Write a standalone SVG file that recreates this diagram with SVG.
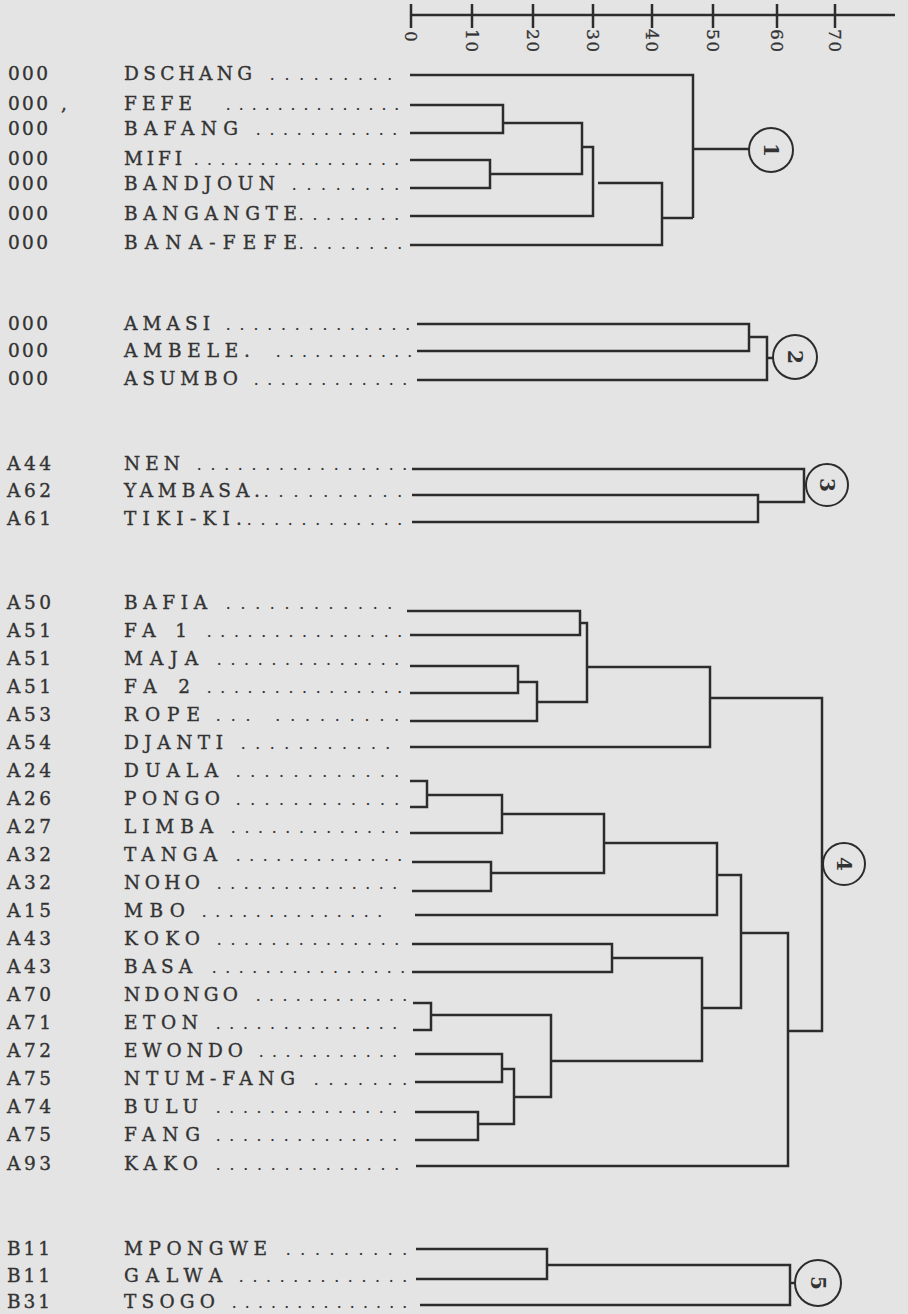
<svg xmlns="http://www.w3.org/2000/svg" width="908" height="1314" viewBox="0 0 908 1314">
<style>
  .bg { fill: #e4e4e4; }
  text { font-family: "DejaVu Serif", "Liberation Serif", serif; fill: #333333; }
  .c { font-size: 18.5px; stroke: #333333; stroke-width: 0.35; }
  .n { font-size: 18.5px; stroke: #333333; stroke-width: 0.35; }
  .d { font-size: 17px; }
  .ax { font-size: 17px; stroke: #333333; stroke-width: 0.3; }
  .num { font-size: 20px; font-weight: bold; text-anchor: middle; }
  .ln { fill: none; stroke: #2c2c2c; stroke-width: 2.5; stroke-linejoin: miter; }
  .cl { fill: none; stroke: #2c2c2c; stroke-width: 2; }
</style>
<rect class="bg" x="0" y="0" width="908" height="1314"/>

<g id="axis">
  <path class="ln" d="M411,15 H895 M411,4 V28 M472,4 V28 M533,4 V28 M593,4 V28 M652,4 V28 M713,4 V28 M777,4 V28 M835,4 V28"/>
  <text class="ax" transform="translate(411,31) rotate(90)" x="0" y="6">0</text>
  <text class="ax" transform="translate(472,29) rotate(90)" x="0" y="6" letter-spacing="1.5">10</text>
  <text class="ax" transform="translate(533,29) rotate(90)" x="0" y="6" letter-spacing="1.5">20</text>
  <text class="ax" transform="translate(593,29) rotate(90)" x="0" y="6" letter-spacing="1.5">30</text>
  <text class="ax" transform="translate(652,29) rotate(90)" x="0" y="6" letter-spacing="1.5">40</text>
  <text class="ax" transform="translate(713,29) rotate(90)" x="0" y="6" letter-spacing="1.5">50</text>
  <text class="ax" transform="translate(777,29) rotate(90)" x="0" y="6" letter-spacing="1.5">60</text>
  <text class="ax" transform="translate(835,29) rotate(90)" x="0" y="6" letter-spacing="1.5">70</text>
</g>

<!-- Group 1 -->
<g id="n-dschang"><text class="c" x="8" y="79.5" textLength="40">000</text><text class="n" x="124" y="79.5" textLength="128">DSCHANG</text><text class="d" x="269.5" y="79.5" textLength="123">.........</text></g>
<g id="n-fefe"><text class="c" x="8" y="109.5" textLength="40">000</text><text class="c" x="61" y="109.5">,</text><text class="n" x="124" y="109.5" textLength="68">FEFE</text><text class="d" x="225.5" y="109.5" textLength="174">..............</text></g>
<g id="n-bafang"><text class="c" x="8" y="134.5" textLength="40">000</text><text class="n" x="124" y="134.5" textLength="114">BAFANG</text><text class="d" x="255.5" y="134.5" textLength="142">...........</text></g>
<g id="n-mifi"><text class="c" x="8" y="164.5" textLength="40">000</text><text class="n" x="124" y="164.5" textLength="58">MIFI</text><text class="d" x="193.5" y="164.5" textLength="206">................</text></g>
<g id="n-bandjoun"><text class="c" x="8" y="189.5" textLength="40">000</text><text class="n" x="124" y="189.5" textLength="151">BANDJOUN</text><text class="d" x="291.5" y="189.5" textLength="108">........</text></g>
<g id="n-bangangte"><text class="c" x="8" y="219.5" textLength="40">000</text><text class="n" x="124" y="219.5" textLength="173">BANGANGTE</text><text class="d" x="298.5" y="219.5" textLength="101">........</text></g>
<g id="n-bana-fefe"><text class="c" x="8" y="248.5" textLength="40">000</text><text class="n" x="124" y="248.5" textLength="173">BANA-FEFE</text><text class="d" x="298.5" y="248.5" textLength="104">........</text></g>

<!-- Group 2 -->
<g id="n-amasi"><text class="c" x="8" y="330" textLength="40">000</text><text class="n" x="124" y="330" textLength="86">AMASI</text><text class="d" x="225.5" y="330" textLength="185">..............</text></g>
<g id="n-ambele"><text class="c" x="8" y="357" textLength="40">000</text><text class="n" x="124" y="357" textLength="126">AMBELE.</text><text class="d" x="275.5" y="357" textLength="137">...........</text></g>
<g id="n-asumbo"><text class="c" x="8" y="385" textLength="40">000</text><text class="n" x="124" y="385" textLength="114">ASUMBO</text><text class="d" x="253.5" y="385" textLength="154">............</text></g>

<!-- Group 3 -->
<g id="n-nen"><text class="c" x="7" y="470" textLength="44">A44</text><text class="n" x="124" y="470" textLength="56">NEN</text><text class="d" x="196.5" y="470" textLength="211">................</text></g>
<g id="n-yambasa"><text class="c" x="7" y="497" textLength="44">A62</text><text class="n" x="124" y="497" textLength="136">YAMBASA.</text><text class="d" x="263.5" y="497" textLength="139">..........</text></g>
<g id="n-tiki-ki"><text class="c" x="7" y="525" textLength="44">A61</text><text class="n" x="124" y="525" textLength="118">TIKI-KI.</text><text class="d" x="246.5" y="525" textLength="156">............</text></g>

<!-- Group 4 -->
<g id="n-bafia"><text class="c" x="7" y="608.5" textLength="44">A50</text><text class="n" x="124" y="608.5" textLength="83">BAFIA</text><text class="d" x="225.5" y="608.5" textLength="167">............</text></g>
<g id="n-fa1"><text class="c" x="7" y="636.5" textLength="44">A51</text><text class="n" x="124" y="636.5" textLength="63">FA 1</text><text class="d" x="206.5" y="636.5" textLength="196">...............</text></g>
<g id="n-maja"><text class="c" x="7" y="664.6" textLength="44">A51</text><text class="n" x="124" y="664.6" textLength="74">MAJA</text><text class="d" x="216.5" y="664.6" textLength="183">..............</text></g>
<g id="n-fa2"><text class="c" x="7" y="692.6" textLength="44">A51</text><text class="n" x="124" y="692.6" textLength="66">FA 2</text><text class="d" x="206.5" y="692.6" textLength="196">...............</text></g>
<g id="n-rope"><text class="c" x="7" y="720.7" textLength="44">A53</text><text class="n" x="124" y="720.7" textLength="76">ROPE</text><text class="d" x="215.5" y="720.7" textLength="184">... .........</text></g>
<g id="n-djanti"><text class="c" x="7" y="748.8" textLength="44">A54</text><text class="n" x="124" y="748.8" textLength="99">DJANTI</text><text class="d" x="240.5" y="748.8" textLength="150">...........</text></g>
<g id="n-duala"><text class="c" x="7" y="776.8" textLength="44">A24</text><text class="n" x="124" y="776.8" textLength="94">DUALA</text><text class="d" x="235.5" y="776.8" textLength="164">............</text></g>
<g id="n-pongo"><text class="c" x="7" y="804.9" textLength="44">A26</text><text class="n" x="124" y="804.9" textLength="96">PONGO</text><text class="d" x="235.5" y="804.9" textLength="164">............</text></g>
<g id="n-limba"><text class="c" x="7" y="832.9" textLength="44">A27</text><text class="n" x="124" y="832.9" textLength="89">LIMBA</text><text class="d" x="230.5" y="832.9" textLength="169">.............</text></g>
<g id="n-tanga"><text class="c" x="7" y="861" textLength="44">A32</text><text class="n" x="124" y="861" textLength="93">TANGA</text><text class="d" x="235.5" y="861" textLength="167">.............</text></g>
<g id="n-noho"><text class="c" x="7" y="889" textLength="44">A32</text><text class="n" x="124" y="889" textLength="76">NOHO</text><text class="d" x="216.5" y="889" textLength="181">..............</text></g>
<g id="n-mbo"><text class="c" x="7" y="917" textLength="44">A15</text><text class="n" x="124" y="917" textLength="61">MBO</text><text class="d" x="201.5" y="917" textLength="181">..............</text></g>
<g id="n-koko"><text class="c" x="7" y="945" textLength="44">A43</text><text class="n" x="124" y="945" textLength="76">KOKO</text><text class="d" x="216.5" y="945" textLength="183">..............</text></g>
<g id="n-basa"><text class="c" x="7" y="973" textLength="44">A43</text><text class="n" x="124" y="973" textLength="68">BASA</text><text class="d" x="211.5" y="973" textLength="194">...............</text></g>
<g id="n-ndongo"><text class="c" x="7" y="1001" textLength="44">A70</text><text class="n" x="124" y="1001" textLength="114">NDONGO</text><text class="d" x="255.5" y="1001" textLength="152">............</text></g>
<g id="n-eton"><text class="c" x="7" y="1029" textLength="44">A71</text><text class="n" x="124" y="1029" textLength="74">ETON</text><text class="d" x="215.5" y="1029" textLength="182">..............</text></g>
<g id="n-ewondo"><text class="c" x="7" y="1057" textLength="44">A72</text><text class="n" x="124" y="1057" textLength="119">EWONDO</text><text class="d" x="258.5" y="1057" textLength="139">...........</text></g>
<g id="n-ntum-fang"><text class="c" x="7" y="1085" textLength="44">A75</text><text class="n" x="124" y="1085" textLength="171">NTUM-FANG</text><text class="d" x="313.5" y="1085" textLength="94">.......</text></g>
<g id="n-bulu"><text class="c" x="7" y="1113" textLength="44">A74</text><text class="n" x="124" y="1113" textLength="74">BULU</text><text class="d" x="215.5" y="1113" textLength="182">..............</text></g>
<g id="n-fang"><text class="c" x="7" y="1141" textLength="44">A75</text><text class="n" x="124" y="1141" textLength="76">FANG</text><text class="d" x="215.5" y="1141" textLength="182">..............</text></g>
<g id="n-kako"><text class="c" x="7" y="1169.5" textLength="44">A93</text><text class="n" x="124" y="1169.5" textLength="74">KAKO</text><text class="d" x="215.5" y="1169.5" textLength="184">..............</text></g>

<!-- Group 5 -->
<g id="n-mpongwe"><text class="c" x="7" y="1255" textLength="43">B11</text><text class="n" x="124" y="1255" textLength="143">MPONGWE</text><text class="d" x="285.5" y="1255" textLength="122">.........</text></g>
<g id="n-galwa"><text class="c" x="7" y="1282" textLength="43">B11</text><text class="n" x="124" y="1282" textLength="98">GALWA</text><text class="d" x="238.5" y="1282" textLength="169">.............</text></g>
<g id="n-tsogo"><text class="c" x="7" y="1308" textLength="43">B31</text><text class="n" x="124" y="1308" textLength="91">TSOGO</text><text class="d" x="231.5" y="1308" textLength="176">..............</text></g>

<!-- cluster markers -->
<g id="cluster-1"><circle class="cl" cx="771" cy="150" r="22"/><text class="num" transform="translate(771,150) rotate(90)" x="0" y="7.5">1</text></g>
<g id="cluster-2"><circle class="cl" cx="795" cy="357" r="22"/><text class="num" transform="translate(795,357) rotate(90)" x="0" y="7.5">2</text></g>
<g id="cluster-3"><circle class="cl" cx="827" cy="485" r="21"/><text class="num" transform="translate(827,485) rotate(90)" x="0" y="7.5">3</text></g>
<g id="cluster-4"><circle class="cl" cx="844" cy="864" r="21"/><text class="num" transform="translate(844,864) rotate(90)" x="0" y="7.5">4</text></g>
<g id="cluster-5"><circle class="cl" cx="818" cy="1283" r="23"/><text class="num" transform="translate(818,1283) rotate(90)" x="0" y="7.5">5</text></g>

<g id="connectors" class="ln">
  <!-- group 1 -->
  <path d="M410,75 H693 V218"/>
  <path d="M410,105 H503 V133 H410"/>
  <path d="M503,123 H582 V174 H490"/>
  <path d="M410,160 H490 V188 H410"/>
  <path d="M582,147 H593 V216 H410"/>
  <path d="M598,183 H662 V245 H410"/>
  <path d="M662,218 H693"/>
  <path d="M693,149 H749"/>
  <!-- group 2 -->
  <path d="M417,324 H749 V351 H417"/>
  <path d="M749,337 H767 V380 H417"/>
  <path d="M767,358 H773"/>
  <!-- group 3 -->
  <path d="M412,469 H804 V502 H758"/>
  <path d="M412,495 H758 V522 H412"/>
  <path d="M804,485 H806"/>
  <!-- group 4 -->
  <path d="M407,611 H580 V635 H410"/>
  <path d="M580,623 H587 V702 H537"/>
  <path d="M410,666 H518 V693 H410"/>
  <path d="M518,682 H537 V721 H410"/>
  <path d="M587,667 H710 V747 H410"/>
  <path d="M710,698 H822 V1031 H788"/>
  <path d="M410,781 H427 V807 H410"/>
  <path d="M427,795 H502 V833 H410"/>
  <path d="M502,814 H604 V873 H491"/>
  <path d="M412,862 H491 V891 H412"/>
  <path d="M604,843 H717 V915 H415"/>
  <path d="M717,875 H741 V1008 H702"/>
  <path d="M412,944 H612 V972 H412"/>
  <path d="M612,958 H702 V1061 H551"/>
  <path d="M413,1003 H431 V1030 H413"/>
  <path d="M431,1015 H551 V1097 H514"/>
  <path d="M415,1054 H502 V1082 H415"/>
  <path d="M502,1069 H514 V1124 H478"/>
  <path d="M415,1112 H478 V1140 H415"/>
  <path d="M741,933 H788 V1166 H416"/>
  <!-- group 5 -->
  <path d="M416,1249 H547 V1279 H416"/>
  <path d="M547,1265 H790 V1305 H420"/>
  <path d="M790,1283 H795"/>
</g>
</svg>
